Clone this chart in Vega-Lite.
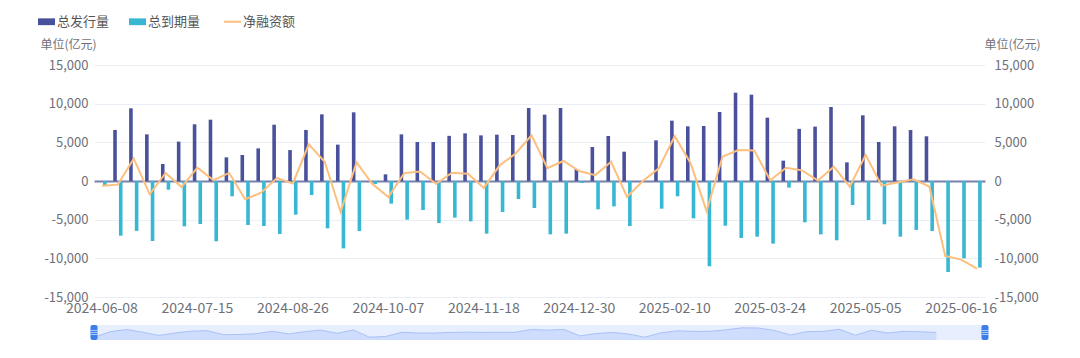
{
  "$schema": "https://vega.github.io/schema/vega-lite/v6.json",
  "autosize": {"type": "pad"},
  "padding": {"left": 40, "top": 15, "right": 0, "bottom": 0},
  "background": "white",
  "datasets": {
    "d": [
      {"date": "2024-06-08", "总发行量": 0, "总到期量": -550, "净融资额": -600},
      {"date": "2024-06-10", "总发行量": 6600, "总到期量": -7070, "净融资额": -470},
      {"date": "2024-06-17", "总发行量": 9400, "总到期量": -6450, "净融资额": 2900},
      {"date": "2024-06-24", "总发行量": 6030, "总到期量": -7760, "净融资额": -1730},
      {"date": "2024-07-01", "总发行量": 2200, "总到期量": -1120, "净融资额": 1050},
      {"date": "2024-07-08", "总发行量": 5090, "总到期量": -5860, "净融资额": -790},
      {"date": "2024-07-15", "总发行量": 7330, "总到期量": -5560, "净融资额": 1720},
      {"date": "2024-07-22", "总发行量": 7930, "总到期量": -7800, "净融资额": 110},
      {"date": "2024-07-29", "总发行量": 3060, "总到期量": -1980, "净融资额": 1040},
      {"date": "2024-08-05", "总发行量": 3360, "总到期量": -5690, "净融资额": -2360},
      {"date": "2024-08-12", "总发行量": 4220, "总到期量": -5820, "净融资额": -1520},
      {"date": "2024-08-19", "总发行量": 7280, "总到期量": -6850, "净融资额": 380},
      {"date": "2024-08-26", "总发行量": 4000, "总到期量": -4350, "净融资额": -320},
      {"date": "2024-09-02", "总发行量": 6600, "总到期量": -1810, "净融资额": 4750},
      {"date": "2024-09-09", "总发行量": 8620, "总到期量": -6120, "净融资额": 2480},
      {"date": "2024-09-16", "总发行量": 4700, "总到期量": -8710, "净融资额": -4000},
      {"date": "2024-09-23", "总发行量": 8880, "总到期量": -6470, "净融资额": 2400},
      {"date": "2024-09-30", "总发行量": 0, "总到期量": -400, "净融资额": -400},
      {"date": "2024-10-07", "总发行量": 860, "总到期量": -2930, "净融资额": -2070},
      {"date": "2024-10-14", "总发行量": 6030, "总到期量": -5000, "净融资额": 1020},
      {"date": "2024-10-21", "总发行量": 5040, "总到期量": -3750, "净融资额": 1230},
      {"date": "2024-10-28", "总发行量": 5040, "总到期量": -5430, "净融资额": -370},
      {"date": "2024-11-04", "总发行量": 5840, "总到期量": -4740, "净融资额": 1060},
      {"date": "2024-11-11", "总发行量": 6160, "总到期量": -5220, "净融资额": 950},
      {"date": "2024-11-18", "总发行量": 5900, "总到期量": -6810, "净融资额": -890},
      {"date": "2024-11-25", "总发行量": 5990, "总到期量": -4000, "净融资额": 2030},
      {"date": "2024-12-02", "总发行量": 5950, "总到期量": -2330, "净融资额": 3560},
      {"date": "2024-12-09", "总发行量": 9440, "总到期量": -3490, "净融资额": 5900},
      {"date": "2024-12-16", "总发行量": 8580, "总到期量": -6900, "净融资额": 1660},
      {"date": "2024-12-23", "总发行量": 9440, "总到期量": -6810, "净融资额": 2590},
      {"date": "2024-12-30", "总发行量": 1550, "总到期量": -260, "净融资额": 1290},
      {"date": "2025-01-06", "总发行量": 4400, "总到期量": -3660, "净融资额": 760},
      {"date": "2025-01-13", "总发行量": 5820, "总到期量": -3280, "净融资额": 2480},
      {"date": "2025-01-20", "总发行量": 3790, "总到期量": -5820, "净融资额": -2030},
      {"date": "2025-01-27", "总发行量": 0, "总到期量": 0, "净融资额": 0},
      {"date": "2025-02-03", "总发行量": 5260, "总到期量": -3580, "净融资额": 1640},
      {"date": "2025-02-10", "总发行量": 7800, "总到期量": -1980, "净融资额": 5800},
      {"date": "2025-02-17", "总发行量": 7070, "总到期量": -4830, "净融资额": 2300},
      {"date": "2025-02-24", "总发行量": 7110, "总到期量": -11030, "净融资额": -3900},
      {"date": "2025-03-03", "总发行量": 8920, "总到期量": -5780, "净融资额": 3150},
      {"date": "2025-03-10", "总发行量": 11420, "总到期量": -7370, "净融资额": 4010},
      {"date": "2025-03-17", "总发行量": 11160, "总到期量": -7200, "净融资额": 3960},
      {"date": "2025-03-24", "总发行量": 8190, "总到期量": -8100, "净融资额": 90},
      {"date": "2025-03-31", "总发行量": 2630, "总到期量": -860, "净融资额": 1720},
      {"date": "2025-04-07", "总发行量": 6740, "总到期量": -5340, "净融资额": 1380},
      {"date": "2025-04-14", "总发行量": 7030, "总到期量": -6900, "净融资额": 60},
      {"date": "2025-04-21", "总发行量": 9570, "总到期量": -7670, "净融资额": 1850},
      {"date": "2025-04-28", "总发行量": 2410, "总到期量": -3100, "净融资额": -730},
      {"date": "2025-05-05", "总发行量": 8490, "总到期量": -5040, "净融资额": 3380},
      {"date": "2025-05-12", "总发行量": 5040, "总到期量": -5600, "净融资额": -600},
      {"date": "2025-05-19", "总发行量": 7070, "总到期量": -7200, "净融资额": -200},
      {"date": "2025-05-26", "总发行量": 6590, "总到期量": -6340, "净融资额": 210},
      {"date": "2025-06-02", "总发行量": 5780, "总到期量": -6470, "净融资额": -710},
      {"date": "2025-06-09", "总发行量": null, "总到期量": -11770, "净融资额": -9700},
      {"date": "2025-06-16", "总发行量": null, "总到期量": -10000, "净融资额": -10170},
      {"date": "2025-06-23", "总发行量": null, "总到期量": -11200, "净融资额": -11320}
    ]
  },
  "vconcat": [
    {
      "width": 891,
      "height": 232,
      "data": {"name": "d"},
      "layer": [
        {
          "transform": [{"fold": ["总发行量", "总到期量"], "as": ["series", "value"]}],
          "mark": {"type": "bar"},
          "encoding": {
            "x": {
              "field": "date", "type": "ordinal", "sort": null,
              "scale": {"paddingInner": 0, "paddingOuter": 0},
              "axis": {
                "values": ["2024-06-08", "2024-07-15", "2024-08-26", "2024-10-07", "2024-11-18", "2024-12-30", "2025-02-10", "2025-03-24", "2025-05-05", "2025-06-16"],
                "labelAngle": 0, "labelFontSize": 14, "labelPadding": 4, "title": null,
                "grid": false, "domain": false, "ticks": false, "labelOverlap": false
              }
            },
            "xOffset": {
              "field": "series", "type": "nominal", "sort": ["总发行量", "总到期量"],
              "scale": {"paddingInner": 0.37, "paddingOuter": 0.58}
            },
            "y": {
              "field": "value", "type": "quantitative",
              "scale": {"domain": [-15000, 15000], "nice": false},
              "axis": {
                "values": [-15000, -10000, -5000, 0, 5000, 10000, 15000],
                "labelExpr": "replace(format(datum.value, ','), '\u2212', '-')",
                "labelOverlap": false, "labelBound": false,
                "grid": true,
                "gridColor": {"condition": {"test": "datum.value === 0", "value": "#7880ab"}, "value": "#eceef6"},
                "gridWidth": {"condition": {"test": "datum.value === 0", "value": 2}, "value": 1},
                "labelPadding": 6,
                "title": "单位(亿元)", "titleAngle": 0, "titleX": -54, "titleY": -21,
                "titleAlign": "left", "titleBaseline": "middle", "titleFontSize": 12,
                "titleFontWeight": "normal", "titleColor": "#6e7079"
              }
            },
            "color": {
              "field": "series", "type": "nominal",
              "scale": {"domain": ["总发行量", "总到期量", "净融资额"], "range": ["#4a519c", "#38b7d2", "#fdbf7e"]},
              "legend": {
                "orient": "none", "legendX": -54, "legendY": -50, "direction": "horizontal",
                "title": null, "labelFontSize": 13, "labelColor": "#555555", "labelOffset": 4,
                "columnPadding": 19, "symbolSize": 289, "padding": 0,
                "encode": {
                  "symbols": {
                    "update": {
                      "shape": {"signal": "datum.value === '净融资额' ? 'stroke' : 'M-1,-0.4H1V0.4H-1Z'"},
                      "fill": {"signal": "datum.value === '净融资额' ? 'transparent' : (datum.value === '总发行量' ? '#4a519c' : '#38b7d2')"},
                      "stroke": {"signal": "datum.value === '净融资额' ? '#fdbf7e' : 'transparent'"},
                      "strokeWidth": {"signal": "datum.value === '净融资额' ? 2 : 0"},
                      "opacity": {"value": 1},
                      "fillOpacity": {"value": 1}
                    }
                  }
                }
              }
            }
          }
        },
        {
          "mark": {"type": "line", "strokeWidth": 2},
          "encoding": {
            "x": {"field": "date", "type": "ordinal", "sort": null},
            "y": {
              "field": "净融资额", "type": "quantitative",
              "scale": {"domain": [-15000, 15000], "nice": false},
              "axis": {
                "orient": "right",
                "values": [-15000, -10000, -5000, 0, 5000, 10000, 15000],
                "labelExpr": "replace(format(datum.value, ','), '\u2212', '-')",
                "labelOverlap": false, "labelBound": false,
                "grid": false, "labelPadding": 9,
                "title": "单位(亿元)", "titleAngle": 0, "titleX": 55, "titleY": -21,
                "titleAlign": "right", "titleBaseline": "middle", "titleFontSize": 12,
                "titleFontWeight": "normal", "titleColor": "#6e7079"
              }
            },
            "color": {"datum": "净融资额", "type": "nominal"}
          }
        }
      ],
      "resolve": {"scale": {"y": "independent"}}
    },
    {
      "width": 891,
      "height": 15,
      "view": {"fill": "#e7efff", "stroke": null},
      "layer": [
        {
          "data": {"name": "d"},
          "mark": {"type": "area", "color": "#8fb0f7", "fillOpacity": 0.28, "line": {"color": "#a9c1f5", "strokeWidth": 1}},
          "encoding": {
            "x": {"field": "date", "type": "ordinal", "sort": null, "scale": {"type": "point", "padding": 0}, "axis": null},
            "y": {"field": "总发行量", "type": "quantitative", "scale": {"domain": [-3426, 14846], "nice": false}, "axis": null},
            "y2": {"datum": -3426}
          }
        },
        {
          "data": {"values": [{"pos": "2024-06-08"}, {"pos": "2025-06-23"}]},
          "mark": {"type": "tick", "color": "#3b7de9", "thickness": 7, "size": 17, "cornerRadius": 2, "opacity": 1},
          "encoding": {
            "x": {"field": "pos", "type": "ordinal"}
          }
        },
        {
          "data": {"values": [{"pos": "2024-06-08"}, {"pos": "2025-06-23"}]},
          "mark": {"type": "text", "text": "≡", "color": "white", "fontSize": 9, "baseline": "middle", "align": "center"},
          "encoding": {
            "x": {"field": "pos", "type": "ordinal"}
          }
        }
      ]
    }
  ],
  "spacing": 28,
  "bounds": "flush",
  "resolve": {"scale": {"x": "independent", "y": "independent"}},
  "config": {
    "view": {"stroke": null},
    "font": "Noto Sans CJK SC",
    "axis": {
      "labelFont": "Noto Sans CJK SC", "labelColor": "#6e7079", "labelFontSize": 13,
      "titleFont": "Noto Sans CJK SC", "domain": false, "ticks": false
    },
    "legend": {"labelFont": "Noto Sans CJK SC"},
    "text": {"font": "Noto Sans CJK SC"}
  }
}
